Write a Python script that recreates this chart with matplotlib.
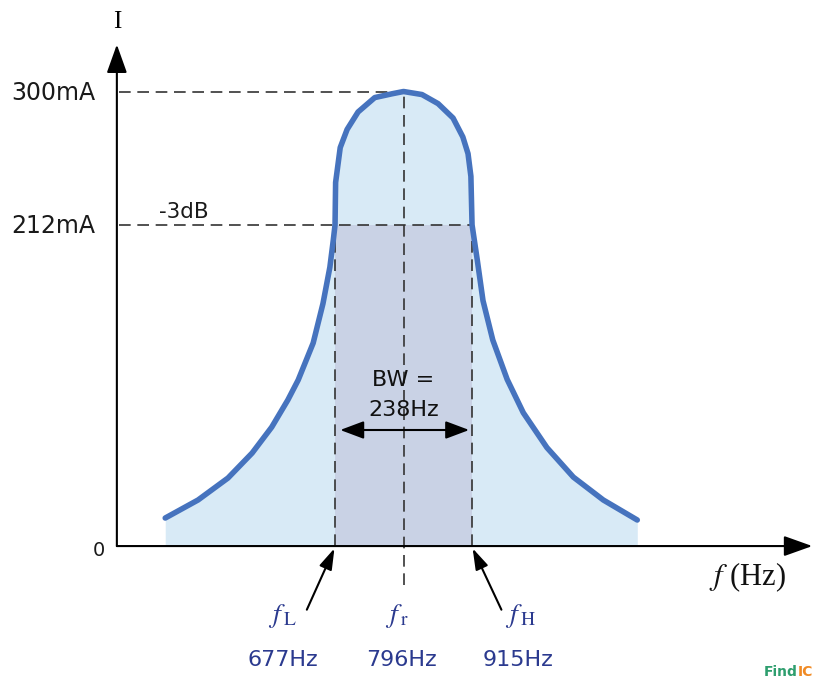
import matplotlib.pyplot as plt

plt.rcParams['mathtext.fontset'] = 'stix'

# resonance curve (Hz, mA)
freq = [382, 439, 491, 533, 567, 595, 613, 639, 656, 668, 674, 677, 678, 686, 698,
        717, 746, 776, 796, 828, 856, 882, 899, 908, 913, 915, 924, 934, 951, 976,
        1004, 1045, 1091, 1143, 1202]
current = [18.5, 30.4, 44.9, 61.4, 78.5, 96.4, 109.6, 134, 160, 184, 202, 212, 240, 263, 275,
           286.5, 296, 298.5, 300, 298, 292, 282.5, 270, 259, 244, 212, 189, 162, 136, 110,
           88, 65, 45.5, 30.4, 17.2]

f_low, f_res, f_high = 677, 796, 915
i_peak, i_3db = 300, 212
freq_names = [r'$f_{\;\mathrm{L}}$', r'$f_{\;\mathrm{r}}$', r'$f_{\;\mathrm{H}}$']
freq_labels = ['677Hz', '796Hz', '915Hz']
y_labels = ['300mA', '212mA']
y_values = [300, 212]

line_col = '#4673be'
fill_col = '#d8eaf6'
band_col = '#c9d2e5'
blue_txt = '#2b3a8f'
dash_col = '#333333'

fig = plt.figure(figsize=(8.14, 6.8), dpi=100)
ax = fig.add_axes([0, 0, 1, 1])
ax.set_xlim(95, 1509)
ax.set_ylim(-88.4, 360.4)
ax.axis('off')

# filled areas
ax.fill_between(freq, current, 0, color=fill_col, lw=0)
ax.fill_between([f_low, f_high], 0, i_3db, color=band_col, lw=0)

# guide lines
dash = dict(color=dash_col, lw=1.2, dashes=(7, 4))
ax.plot([302, f_res], [i_peak, i_peak], **dash)
ax.plot([302, f_high], [i_3db, i_3db], **dash)
ax.plot([f_low, f_low], [0, i_3db], **dash)
ax.plot([f_high, f_high], [0, i_3db], **dash)
ax.plot([f_res, f_res], [-26, i_peak], **dash)

# curve
ax.plot(freq, current, color=line_col, lw=4, solid_capstyle='round', solid_joinstyle='round')

# axes with arrows
x0 = 298
arr = dict(arrowstyle='-|>,head_length=0.7,head_width=0.25', mutation_scale=25,
           lw=1.5, color='black', shrinkA=0, shrinkB=0)
ax.annotate('', xy=(1506, 0), xytext=(x0, 0), arrowprops=arr)
ax.annotate('', xy=(x0, 331), xytext=(x0, 0), arrowprops=arr)

# bandwidth arrow
ax.annotate('', xy=(910, 76.6), xytext=(686, 76.6),
            arrowprops=dict(arrowstyle='<|-|>,head_length=0.8,head_width=0.3',
                            mutation_scale=18, lw=1.5, color='black', shrinkA=0, shrinkB=0))
ax.text(f_res, 109.6, 'BW =', ha='center', va='center', fontsize=16, color='#111111')
ax.text(f_res, 89.8, '238Hz', ha='center', va='center', fontsize=16, color='#111111')

# pointer arrows to fL / fH
parr = dict(arrowstyle='-|>,head_length=0.8,head_width=0.25', mutation_scale=16,
            lw=1.5, color='black', shrinkA=0, shrinkB=0)
ax.annotate('', xy=(f_low - 1, -1.5), xytext=(628, -42), arrowprops=parr)
ax.annotate('', xy=(f_high + 1, -1.5), xytext=(966, -42), arrowprops=parr)

# y labels
for lab, v in zip(y_labels, y_values):
    ax.text(261, v - 1, lab, ha='right', va='center', fontsize=17, color='#1a1a1a')
ax.text(278, -3, '0', ha='right', va='center', fontsize=14, color='#1a1a1a')
ax.text(x0, 346, 'I', ha='center', va='center', fontsize=18, family='Liberation Serif')
ax.text(372, 220.5, '-3dB', ha='left', va='center', fontsize=15.5, color='#1a1a1a')

# frequency labels
xs_name = [586, 785, 999]
xs_val = [587, 792, 995]
for name, lab, xn, xv in zip(freq_names, freq_labels, xs_name, xs_val):
    ax.text(xn, -46, name, ha='center', va='center', fontsize=20, color=blue_txt)
    ax.text(xv, -75.2, lab, ha='center', va='center', fontsize=16, color=blue_txt)

ax.text(1394, -20.5, r'$f$ (Hz)', ha='center', va='center', fontsize=22,
        family='Liberation Serif', color='#111111')

# watermark
ax.text(1481, -83.2, 'Find', ha='right', va='center', fontsize=10, fontweight='bold', color='#2e9e6e')
ax.text(1481, -83.2, 'IC', ha='left', va='center', fontsize=10, fontweight='bold', color='#f08a24')

fig.savefig('out.png', dpi=100)
